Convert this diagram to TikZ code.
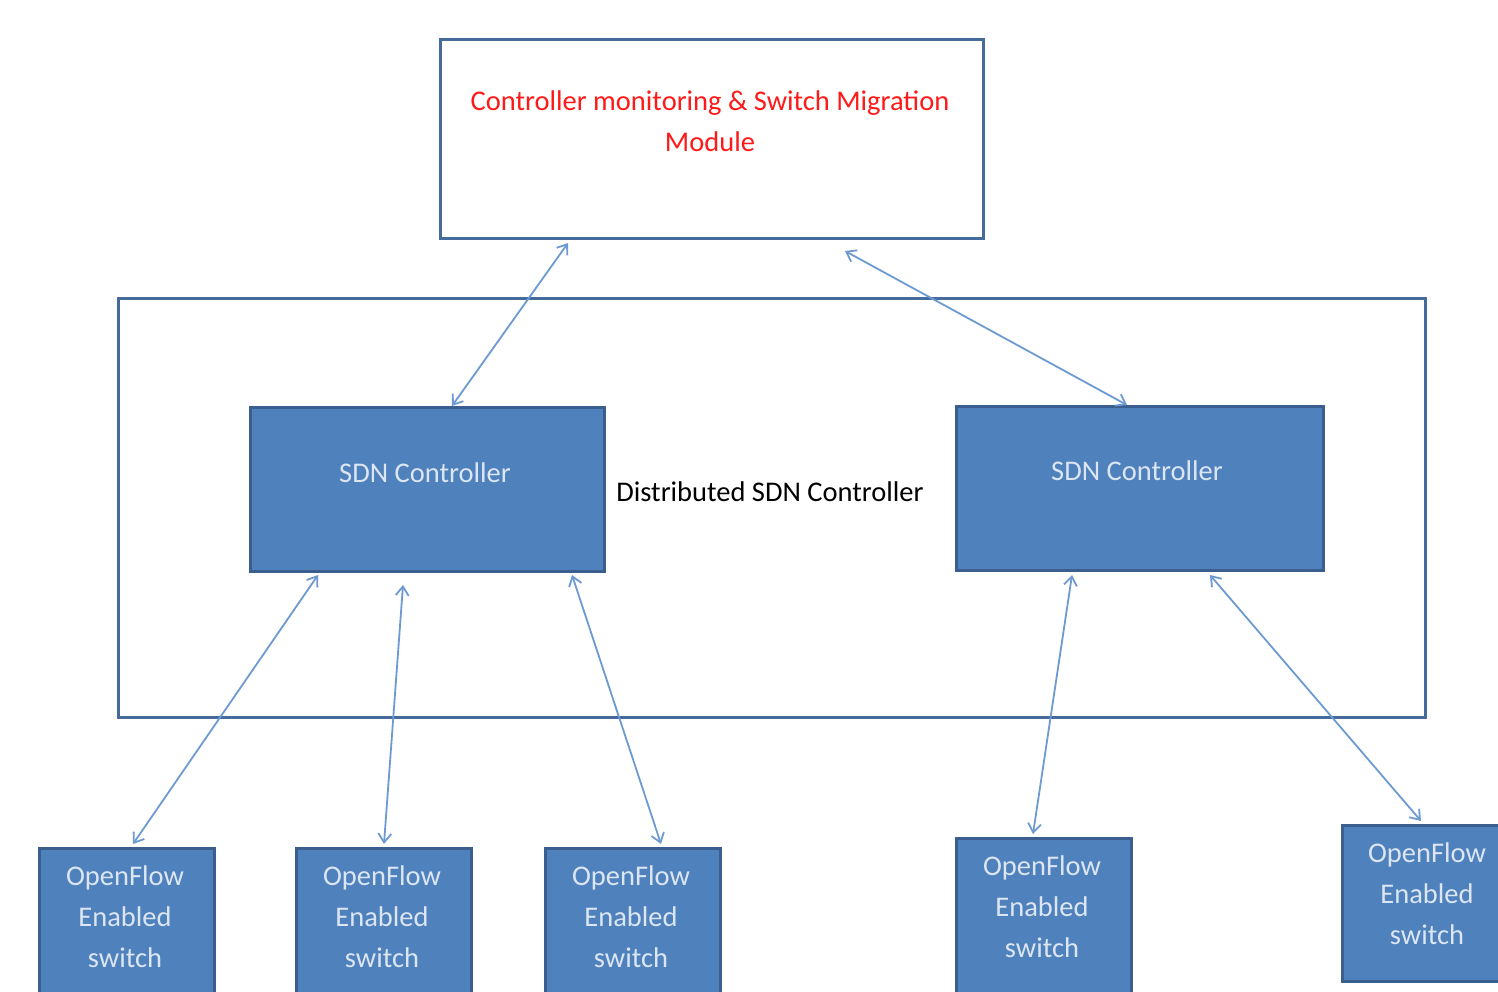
\documentclass[tikz,border=0pt]{standalone}
\usepackage{fontspec}
\setmainfont{Carlito}
\usetikzlibrary{arrows.meta}
\definecolor{boxfill}{HTML}{4F81BD}
\definecolor{boxline}{HTML}{3A5F8E}
\definecolor{frameline}{HTML}{456A9C}
\definecolor{linkblue}{HTML}{6E9AD2}
\definecolor{boxtext}{HTML}{DCE6F2}
\definecolor{modred}{HTML}{FF1A1A}
\begin{document}
\begin{tikzpicture}[x=1pt,y=-1pt,
  frame/.style={draw=frameline, line width=3pt, fill=white, anchor=north west, inner sep=0pt},
  ctrl/.style={draw=boxline, line width=3pt, fill=boxfill, anchor=north west, inner sep=0pt},
  lbl/.style={font=\fontsize{28.5}{41}\selectfont, align=center, inner sep=0pt},
  barb/.tip={Straight Barb[length=9pt,width=13pt]},
  link/.style={draw=linkblue, line width=1.8pt, barb-barb}
]
\useasboundingbox (0,0) rectangle (1498,992);

% monitoring module
\node[frame, minimum width=543pt, minimum height=199pt] (mon) at (439,38) {};
\node[lbl, text=modred] (montext) at (710,121) {Controller monitoring \& Switch Migration\\Module};

% distributed controller frame
\node[frame, minimum width=1307pt, minimum height=419pt] (dist) at (117,297) {};
\node[lbl, text=black] (disttext) at (770,492) {Distributed SDN Controller};

% controllers
\node[ctrl, minimum width=354pt, minimum height=164pt] (c1) at (249,406) {};
\node[lbl, text=boxtext] (c1t) at (425,473) {SDN Controller};
\node[ctrl, minimum width=367pt, minimum height=164pt] (c2) at (955,405) {};
\node[lbl, text=boxtext] (c2t) at (1137,471) {SDN Controller};

% switches
\node[ctrl, minimum width=175pt, minimum height=200pt] (s1) at (38,847) {};
\node[ctrl, minimum width=175pt, minimum height=200pt] (s2) at (295,847) {};
\node[ctrl, minimum width=175pt, minimum height=200pt] (s3) at (544,847) {};
\node[ctrl, minimum width=175pt, minimum height=200pt] (s4) at (955,837) {};
\node[ctrl, minimum width=220pt, minimum height=156pt] (s5) at (1341,824) {};
\node[lbl, text=boxtext] (s1t) at (125,917) {OpenFlow\\Enabled\\switch};
\node[lbl, text=boxtext] (s2t) at (382,917) {OpenFlow\\Enabled\\switch};
\node[lbl, text=boxtext] (s3t) at (631,917) {OpenFlow\\Enabled\\switch};
\node[lbl, text=boxtext] (s4t) at (1042,907) {OpenFlow\\Enabled\\switch};
\node[lbl, text=boxtext] (s5t) at (1427,894) {OpenFlow\\Enabled\\switch};

% links
\draw[link] ([xshift=129pt,yshift=-3pt]mon.south west) -- ([xshift=203pt]c1.north west);
\draw[link] ([xshift=406pt,yshift=-11pt]mon.south west) -- ([xshift=172pt]c2.north west);
\draw[link] ([xshift=69pt,yshift=-2pt]c1.south west) -- ([xshift=95pt,yshift=3pt]s1.north west);
\draw[link] ([xshift=154pt,yshift=-12pt]c1.south west) -- ([xshift=89pt,yshift=3pt]s2.north west);
\draw[link] ([xshift=323pt,yshift=-2pt]c1.south west) -- ([xshift=117pt,yshift=3pt]s3.north west);
\draw[link] ([xshift=117pt,yshift=-3pt]c2.south west) -- ([xshift=78pt,yshift=3pt]s4.north west);
\draw[link] ([xshift=255pt,yshift=-3pt]c2.south west) -- ([xshift=80pt,yshift=3pt]s5.north west);
\end{tikzpicture}
\end{document}
